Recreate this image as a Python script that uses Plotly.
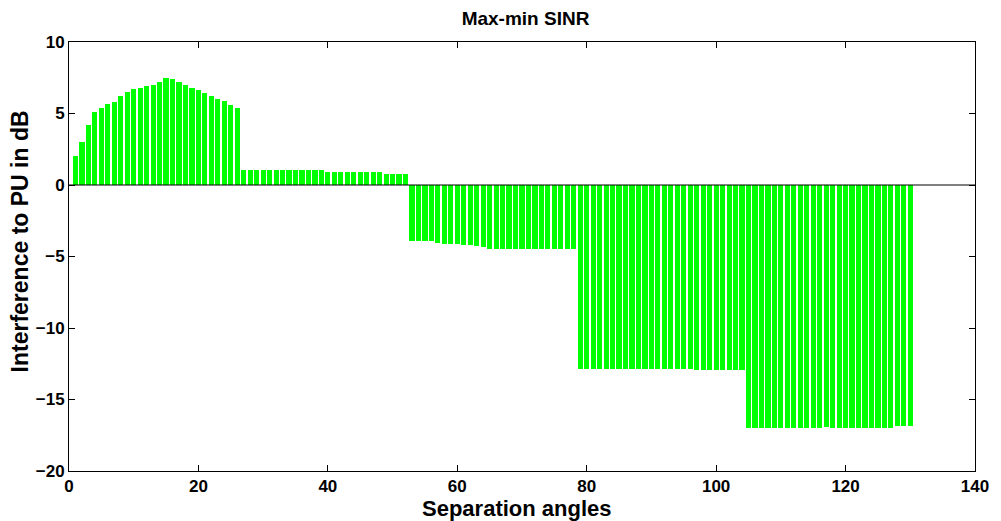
import plotly.graph_objects as go

# Separation angles (bar positions)
angles = list(range(1, 131))

# Interference to PU in dB, in five groups of 26 bars
group1 = [2.03, 2.98, 4.22, 5.10, 5.38, 5.64, 5.80, 6.20, 6.50, 6.71,
          6.78, 6.90, 6.99, 7.20, 7.46, 7.44, 7.20, 6.99, 6.78, 6.67,
          6.43, 6.22, 6.04, 5.85, 5.62, 5.38]
group2 = [1.08, 1.07, 1.07, 1.06, 1.06, 1.06, 1.05, 1.05, 1.05, 1.04,
          1.04, 1.04, 1.03, 0.90, 0.90, 0.90, 0.89, 0.89, 0.89, 0.89,
          0.88, 0.88, 0.77, 0.77, 0.76, 0.76]
group3 = [-3.92, -3.92, -3.92, -3.92, -4.03, -4.15, -4.15, -4.15, -4.20, -4.20,
          -4.29, -4.33, -4.45, -4.45, -4.45, -4.45, -4.45, -4.45, -4.45, -4.45,
          -4.45, -4.45, -4.45, -4.45, -4.45, -4.45]
group4 = [-12.84, -12.84, -12.84, -12.84, -12.84, -12.84, -12.84, -12.84, -12.84, -12.84,
          -12.84, -12.84, -12.84, -12.84, -12.84, -12.84, -12.84, -12.90, -12.96, -12.96,
          -12.96, -12.96, -12.96, -12.96, -12.96, -12.96]
group5 = [-16.97, -16.97, -16.97, -16.97, -16.97, -16.97, -16.97, -16.97, -16.97, -16.97,
          -16.97, -16.97, -16.90, -16.97, -16.97, -16.97, -16.97, -16.97, -16.97, -16.97,
          -16.97, -16.97, -16.97, -16.85, -16.85, -16.85]
interference = group1 + group2 + group3 + group4 + group5

x_ticks = [0, 20, 40, 60, 80, 100, 120, 140]
y_ticks = [-20, -15, -10, -5, 0, 5, 10]

FONT = "Liberation Sans, Arial, sans-serif"

fig = go.Figure()
fig.add_trace(go.Bar(
    x=angles, y=interference, width=0.8,
    marker=dict(color="#00ff00", line=dict(width=0)),
    showlegend=False,
))

# baseline at y = 0
fig.add_shape(type="line", xref="x", yref="y", x0=0, x1=140, y0=0, y1=0,
              line=dict(color="#000000", width=1), layer="above")

axis_common = dict(
    showgrid=False, zeroline=False, showline=True, linecolor="#000000",
    linewidth=1, mirror="ticks", ticks="inside", ticklen=6, tickcolor="#000000",
    ticklabeloverflow="allow",
    tickfont=dict(family=FONT, size=17, color="#000000", weight="bold"),
)
fig.update_xaxes(range=[0, 140], tickvals=x_ticks, **axis_common)
fig.update_yaxes(range=[-20, 10], tickvals=y_ticks, **axis_common)

fig.update_layout(
    width=1001, height=521,
    margin=dict(l=69, r=18, t=42, b=50),
    paper_bgcolor="#ffffff", plot_bgcolor="#ffffff",
    bargap=0,
    title=dict(text="Max-min SINR", x=0.525, xanchor="center",
               y=1 - 18 / 521, yanchor="middle", yref="container",
               font=dict(family=FONT, size=19, color="#000000", weight="bold")),
    annotations=[
        dict(text="Separation angles", xref="paper", yref="paper",
             x=0.495, y=-37 / 429, xanchor="center", yanchor="middle",
             showarrow=False,
             font=dict(family=FONT, size=22, color="#000000", weight="bold")),
        dict(text="Interference to PU in dB", xref="paper", yref="paper",
             x=-49 / 914, y=(471 - 241) / 429, xanchor="center", yanchor="middle",
             textangle=-90, showarrow=False,
             font=dict(family=FONT, size=23, color="#000000", weight="bold")),
    ],
)

fig.write_html("out.html")
